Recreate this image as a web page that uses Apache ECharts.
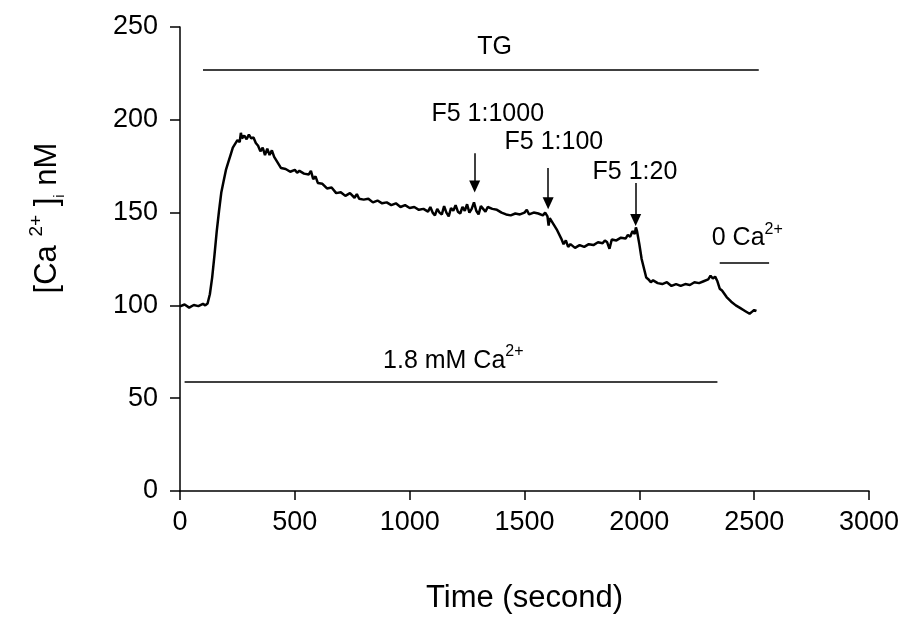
<!DOCTYPE html>
<html>
<head>
<meta charset="utf-8">
<script src="https://cdn.jsdelivr.net/npm/echarts@6/dist/echarts.min.js"></script>
<style>
  html, body { margin: 0; padding: 0; background: #fff; }
  #main { width: 904px; height: 627px; }
</style>
</head>
<body>
<div id="main"></div>
<script>
// [time (s), [Ca2+]i (nM)]
const trace = [
  [0, 99.5], [20, 100.5], [40, 98.8], [60, 100.2], [80, 99.6], [100, 100.8], [110, 100], [120, 101],
  [130, 106], [140, 115], [150, 127], [160, 140], [170, 151], [180, 161], [190, 167], [200, 173],
  [210, 177], [220, 181], [230, 185], [240, 187], [250, 189], [260, 188], [265, 193], [270, 190],
  [280, 191.5], [290, 189.5], [300, 192], [310, 190], [320, 190.5], [330, 187.5], [340, 186], [350, 183],
  [360, 185], [370, 181], [380, 184.5], [390, 181], [400, 183.5], [410, 180], [420, 178], [430, 176],
  [440, 174], [460, 173.5], [480, 172], [500, 173], [510, 171.5], [520, 172.5], [540, 171], [560, 170.5],
  [570, 172.5], [580, 168], [590, 169.5], [600, 166], [620, 165.5], [640, 163], [660, 163.5], [680, 160.5],
  [700, 161], [720, 159], [740, 160.5], [760, 158], [770, 160], [780, 157.5], [800, 157], [820, 157.5],
  [840, 155.5], [860, 156.5], [880, 155], [900, 155.5], [920, 154], [940, 155], [960, 153], [980, 154],
  [1000, 152.5], [1020, 153], [1040, 151.5], [1060, 152], [1080, 150.5], [1090, 153], [1100, 150], [1110, 148.5],
  [1120, 152], [1130, 150], [1140, 149], [1150, 153.5], [1160, 150], [1170, 148], [1180, 152.5], [1190, 151],
  [1200, 154], [1210, 150.5], [1220, 149.5], [1230, 153], [1240, 151], [1250, 154.5], [1260, 150], [1270, 152],
  [1280, 155.5], [1290, 151], [1300, 149], [1310, 153.5], [1320, 152], [1330, 150.5], [1340, 153], [1360, 152],
  [1380, 151.5], [1400, 150], [1420, 149], [1440, 148.5], [1460, 149.5], [1480, 149], [1500, 150], [1510, 151.5],
  [1520, 149], [1540, 150], [1560, 149.5], [1580, 148.5], [1590, 150], [1600, 148], [1605, 143], [1610, 147],
  [1620, 145], [1640, 141], [1660, 136], [1670, 133], [1680, 135], [1690, 131.5], [1700, 133], [1720, 131],
  [1740, 132.5], [1760, 131.5], [1780, 133], [1800, 132.5], [1820, 134], [1840, 133.5], [1850, 135], [1860, 134],
  [1870, 130.5], [1880, 135.5], [1900, 135], [1920, 136.5], [1940, 136], [1950, 138], [1960, 137], [1970, 140],
  [1980, 138.5], [1985, 142], [1990, 140], [2000, 133], [2010, 125], [2020, 120], [2030, 115], [2040, 114],
  [2050, 112.5], [2060, 113.5], [2080, 112], [2100, 111.5], [2120, 112.5], [2140, 110.5], [2160, 111.5], [2180, 110.5],
  [2200, 111.5], [2220, 111], [2240, 112.5], [2260, 112], [2280, 113], [2300, 114], [2310, 116], [2320, 114.5],
  [2330, 115.5], [2340, 113], [2350, 109], [2360, 108], [2380, 104.5], [2400, 102], [2420, 100], [2440, 98.5],
  [2460, 97], [2480, 95.5], [2490, 96.5], [2500, 97.5], [2510, 97]
]

const xTicks = [0, 500, 1000, 1500, 2000, 2500, 3000]
const yTicks = [0, 50, 100, 150, 200, 250]

// treatment bars: [start, end, level]
const barTG = [100, 2520, 227]
const barCa = [20, 2340, 59]
const barZeroCa = [2350, 2565, 123]

// arrows: [time, top, tip]
const arrows = [
  [1283, 182, 164],
  [1603, 174, 155],
  [1984, 166, 146]
]

// text labels: [time, level, text]
const labels = [
  [1370, 239, '{t|TG}'],
  [1340, 203, '{t|F5 1:1000}'],
  [1628, 188, '{t|F5 1:100}'],
  [1981, 172, '{t|F5 1:20}'],
  [2470, 136, '{t|0 Ca}{sup|2+}'],
  [1190, 70, '{t|1.8 mM Ca}{sup|2+}']
]

const font = 'Liberation Sans, Arial, sans-serif'
const rich = {
  t: { fontSize: 25, fontFamily: font, color: '#000', lineHeight: 34 },
  sup: { fontSize: 16, fontFamily: font, color: '#000', verticalAlign: 'top', lineHeight: 16 }
}

const chart = echarts.init(document.getElementById('main'))

chart.setOption({
  animation: false,
  backgroundColor: '#fff',
  grid: { left: 180, right: 35, top: 27, bottom: 136 },
  xAxis: {
    type: 'value',
    min: xTicks[0],
    max: xTicks[xTicks.length - 1],
    interval: 500,
    name: 'Time (second)',
    nameLocation: 'middle',
    nameGap: 92,
    nameTextStyle: { fontSize: 31, fontFamily: font, color: '#000' },
    axisLine: { lineStyle: { color: '#000', width: 1.5 } },
    axisTick: { length: 9, lineStyle: { color: '#000', width: 1.5 } },
    axisLabel: { fontSize: 27, fontFamily: font, color: '#000', margin: 18, formatter: v => String(v) },
    splitLine: { show: false }
  },
  yAxis: {
    type: 'value',
    min: yTicks[0],
    max: yTicks[yTicks.length - 1],
    interval: 50,
    name: '{b|[Ca }{sup|2+}{b| ]}{sub|i}{b| nM}',
    nameLocation: 'middle',
    nameGap: 113,
    nameRotate: 90,
    nameTextStyle: {
      padding: [0, 0, 0, 82],
      rich: {
        b: { fontSize: 31, fontFamily: font, color: '#000', lineHeight: 40 },
        sup: { fontSize: 19, fontFamily: font, color: '#000', verticalAlign: 'top', lineHeight: 19 },
        sub: { fontSize: 15, fontFamily: font, color: '#000', verticalAlign: 'bottom', lineHeight: 22 }
      }
    },
    axisLine: { show: true, lineStyle: { color: '#000', width: 1.5 } },
    axisTick: { show: true, length: 10, lineStyle: { color: '#000', width: 1.5 } },
    axisLabel: { fontSize: 27, fontFamily: font, color: '#000', margin: 22 },
    splitLine: { show: false }
  },
  series: [
    {
      name: 'trace',
      type: 'line',
      data: trace,
      symbol: 'none',
      lineStyle: { color: '#000', width: 2.5 },
      markLine: {
        silent: true,
        animation: false,
        symbol: ['none', 'none'],
        label: { show: false },
        lineStyle: { color: '#000', width: 1.5, type: 'solid' },
        data: [barTG, barCa, barZeroCa].map(b => [
          { coord: [b[0], b[2]] },
          { coord: [b[1], b[2]] }
        ]).concat(arrows.map(a => [
          { coord: [a[0], a[1]], symbol: 'none' },
          { coord: [a[0], a[2]], symbol: 'triangle', symbolSize: [11, 12], symbolRotate: 180 }
        ]))
      }
    },
    {
      name: 'labels',
      type: 'scatter',
      data: labels.map(l => ({ value: [l[0], l[1]], text: l[2] })),
      symbolSize: 0,
      silent: true,
      itemStyle: { color: '#000', opacity: 1 },
      label: {
        show: true,
        position: 'inside',
        color: '#000',
        formatter: p => p.data.text,
        rich: rich
      }
    }
  ]
})
</script>
</body>
</html>
